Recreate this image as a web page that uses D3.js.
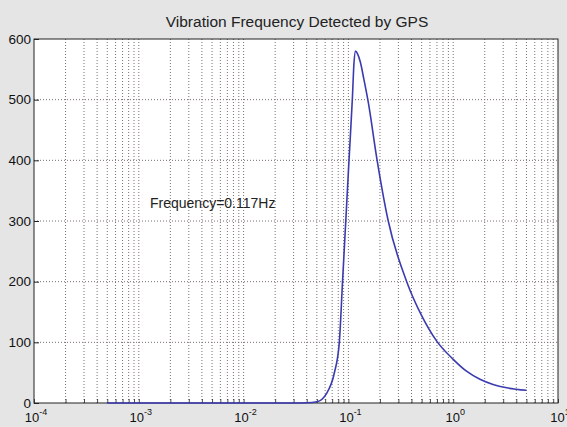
<!DOCTYPE html>
<html><head><meta charset="utf-8">
<script src="https://cdn.jsdelivr.net/npm/d3@7"></script>
<style>body{margin:0;background:#e5e5e5;}svg{display:block;font-family:"Liberation Sans",Arial,sans-serif;}</style>
</head><body>
<svg id="c" width="567" height="427"></svg>
<script>
const title = "Vibration Frequency Detected by GPS";
const annotation = "Frequency=0.117Hz";
const freq = [0.0005,0.001,0.005,0.01,0.02,0.03,0.04,0.05,0.062,0.0733,0.0819,0.0879,0.0944,0.1013,0.109,0.113,0.117,0.122,0.13,0.14,0.155,0.186,0.24,0.36,0.5,0.696,1.0,1.35,1.8,2.4,3.24,5.0];
const amp  = [0,0,0,0,0,0,0.3,2,16,49,100,200,300,400,500,560,580,576,562,535,495,405,300,200,144,102,72,52,39,30.5,25,21];
const yTicks = [0,100,200,300,400,500,600];
const xDecades = [-4,-3,-2,-1,0,1];

const svg = d3.select("#c");
const m = {l:34, r:558, t:39, b:403};
const x = d3.scaleLog().domain([1e-4,10]).range([m.l,m.r]);
const y = d3.scaleLinear().domain([0,600]).range([m.b,m.t]);

svg.append("rect").attr("x",m.l).attr("y",m.t).attr("width",m.r-m.l).attr("height",m.b-m.t).attr("fill","#fff");

// grid
const minor = [];
for (let e=-4;e<1;e++) for (let k=1;k<=9;k++) minor.push(k*Math.pow(10,e));
minor.push(10);
const g = svg.append("g");
g.selectAll(".vx").data(minor.slice(1,-1)).enter().append("line")
  .attr("x1",d=>x(d)).attr("x2",d=>x(d)).attr("y1",m.t).attr("y2",m.b)
  .attr("stroke","#7a7070").attr("stroke-width",1).attr("stroke-dasharray","1,2");
g.selectAll(".hy").data(yTicks.slice(1,-1)).enter().append("line")
  .attr("x1",m.l).attr("x2",m.r).attr("y1",d=>y(d)).attr("y2",d=>y(d))
  .attr("stroke","#7a7070").attr("stroke-width",1).attr("stroke-dasharray","1,2");

// axes
const ya = svg.append("g").attr("transform",`translate(${m.l},0)`)
  .call(d3.axisLeft(y).tickValues(yTicks).tickSize(-5).tickPadding(3).tickFormat(d3.format("d")));
ya.select(".domain").remove();
ya.selectAll("text").attr("font-size",13.5).attr("fill","#111").attr("font-family","Liberation Sans, Arial, sans-serif");
ya.selectAll("line").attr("stroke","#222");

const xa = svg.append("g").attr("transform",`translate(0,${m.b})`)
  .call(d3.axisBottom(x).tickValues(minor).tickSize(-4).tickFormat(""));
xa.select(".domain").remove();
xa.selectAll("line").attr("stroke","#222").attr("stroke-width",0.8);

const lab = svg.append("g");
xDecades.forEach(e=>{
  const t = lab.append("text").attr("x",x(Math.pow(10,e))+2).attr("y",m.b+19)
    .attr("text-anchor","middle").attr("font-size",13).attr("fill","#111");
  t.append("tspan").text("10");
  t.append("tspan").attr("dy",-7).attr("font-size",9).text(String(e));
});

svg.append("rect").attr("x",m.l).attr("y",m.t).attr("width",m.r-m.l).attr("height",m.b-m.t)
  .attr("fill","none").attr("stroke","#222").attr("stroke-width",1);

// line
const pts = freq.map((f,i)=>[f,amp[i]]);
svg.append("path").datum(pts)
  .attr("d",d3.line().x(d=>x(d[0])).y(d=>y(d[1])).curve(d3.curveMonotoneX))
  .attr("fill","none").attr("stroke","#3b3bb0").attr("stroke-width",1.6);

svg.append("text").attr("x",297).attr("y",27).attr("text-anchor","middle")
  .attr("font-size",15.5).attr("fill","#222").text(title);
svg.append("text").attr("x",150).attr("y",208).attr("font-size",14).attr("fill","#222").text(annotation);
</script>
</body></html>
